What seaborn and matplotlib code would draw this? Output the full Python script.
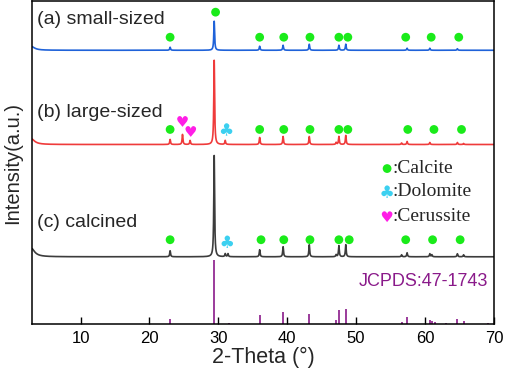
import numpy as np
import pandas as pd
import matplotlib
matplotlib.use("Agg")
import matplotlib.pyplot as plt
import seaborn as sns

# peak positions (2-theta) and heights (offset units)
pos_a = [23.0, 29.4, 36.0, 39.4, 43.2, 47.5, 48.5, 57.4, 60.7, 64.7]
h_a = [3, 29, 4, 5, 6, 5, 6, 2, 2, 1.5]
pos_b = [23.0, 24.8, 25.9, 29.4, 31.0, 36.0, 39.4, 43.2, 47.1, 47.5, 48.5, 56.6, 57.4, 60.7, 64.7, 65.6]
h_b = [5, 10, 4, 84, 4, 7, 8, 8, 2, 8, 9, 1.5, 3, 2, 2, 1]
pos_c = [23.0, 29.4, 31.0, 31.4, 36.0, 39.4, 43.2, 47.1, 47.5, 48.5, 56.6, 57.4, 60.7, 61.0, 64.7, 65.6]
h_c = [6, 101, 3, 3, 7, 10, 12, 2, 11, 12, 2, 4, 3, 2, 3, 2]
base = {"a": 273, "b": 179, "c": 67}
lowbg = {"a": 4, "b": 6, "c": 9}

# JCPDS 47-1743 reference lines
stick_pos = [23.0, 29.4, 31.5, 36.0, 39.4, 43.2, 47.1, 47.5, 48.5, 56.6, 57.4, 60.7, 61.0, 61.4, 63.1, 64.7, 65.6, 69.2]
stick_h = [5, 64, 1, 9, 12, 10, 4, 14, 15, 2, 7, 4, 3, 2, 1, 5, 3, 1]

# phase markers
calc_x = [23.0, 29.6, 36.0, 39.5, 43.3, 47.5, 48.8, 57.2, 60.9, 64.9,
          23.0, 36.0, 39.5, 43.3, 47.5, 48.8, 57.5, 61.3, 65.3,
          23.0, 36.2, 39.5, 43.3, 47.5, 49.0, 57.2, 61.1, 65.1]
calc_y = [286, 311, 286, 286, 286, 286, 286, 286, 286, 286,
          194, 194, 194, 194, 194, 194, 194, 194, 194,
          84, 84, 84, 84, 84, 84, 84, 84, 84]
dolo_x = [31.2, 31.3]
dolo_y = [194, 82]
ceru_x = [24.8, 26.0]
ceru_y = [202, 192]

sns.set_theme(style="ticks")
plt.rcParams['font.family'] = ['Liberation Sans', 'DejaVu Sans']

tt = np.linspace(3, 70, 8000)
def profile(pos, h, lb):
    y = lb / (1 + ((tt - 2.8) / 0.6) ** 2)
    for p, hh in zip(pos, h):
        y = y + hh / (1 + ((tt - p) / 0.07) ** 2)
    return y

rows = []
for key, pos, h in [("a", pos_a, h_a), ("b", pos_b, h_b), ("c", pos_c, h_c)]:
    rows.append(pd.DataFrame({"theta": tt, "I": base[key] + profile(pos, h, lowbg[key]), "s": key}))
df = pd.concat(rows)

fig = plt.figure(figsize=(5.05, 3.78), dpi=100)
ax = fig.add_axes([0.064, 0.143, 0.914, 0.854])
sns.lineplot(data=df, x="theta", y="I", hue="s", palette={"a": "#1f62d9", "b": "#ef3b3b", "c": "#3c3c3c"},
             linewidth=1.2, legend=False, ax=ax, estimator=None)
ax.vlines(stick_pos, 0, stick_h, color="#8a1a8a", linewidth=1.2)

sns.scatterplot(x=calc_x, y=calc_y, color="#1aeb1a", s=40, edgecolor="none", ax=ax)
sns.scatterplot(x=dolo_x, y=dolo_y, color="#3cd0f0", marker="$\u2663$", s=80, edgecolor="none", ax=ax)
sns.scatterplot(x=ceru_x, y=ceru_y, color="#ff1ee6", marker="$\u2665$", s=60, edgecolor="none", ax=ax)

ax.text(3.75, 304, "(a) small-sized", fontsize=14, va="center")
ax.text(3.75, 211, "(b) large-sized", fontsize=14, va="center")
ax.text(3.75, 101, "(c) calcined", fontsize=14, va="center")
ax.text(69.2, 42, "JCPDS:47-1743", fontsize=13, color="#8a1a8a", ha="right", va="center")

# phase key
ax.scatter([54.5], [155], color="#1aeb1a", s=40, edgecolor="none")
ax.scatter([54.5], [132], color="#3cd0f0", marker="$\u2663$", s=80, edgecolor="none")
ax.scatter([54.5], [107], color="#ff1ee6", marker="$\u2665$", s=60, edgecolor="none")
for yy, lab in [(155, ":Calcite"), (132, ":Dolomite"), (107, ":Cerussite")]:
    ax.text(55.3, yy, lab, fontsize=14, family=["Liberation Serif", "DejaVu Serif"], va="center")

ax.set_xlim(3, 70)
ax.set_ylim(0, 322)
ax.set_xticks([10, 20, 30, 40, 50, 60, 70])
ax.set_yticks([])
ax.tick_params(axis="x", direction="in", length=5, width=1, labelsize=12, pad=5, colors="black")
for sp in ax.spines.values():
    sp.set_visible(True)
    sp.set_linewidth(1.1)
    sp.set_color("black")
ax.set_xlabel("2-Theta (°)", fontsize=15.5, labelpad=1)
ax.set_ylabel("Intensity(a.u.)", fontsize=14.5, labelpad=7)

fig.savefig("out.png", dpi=100)
